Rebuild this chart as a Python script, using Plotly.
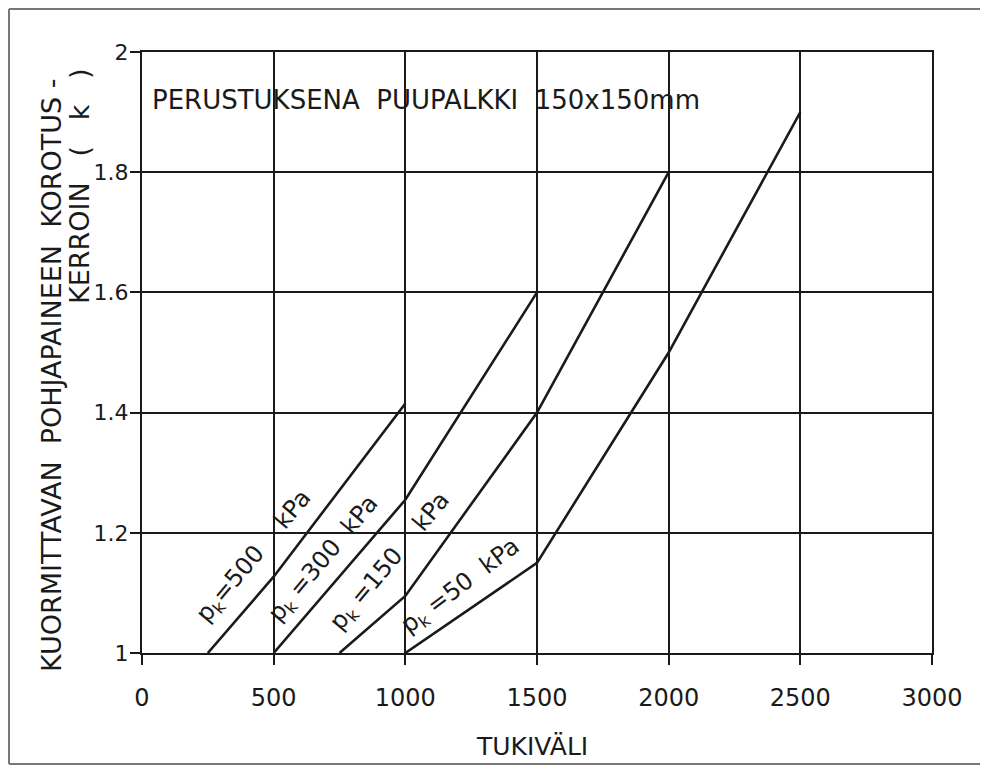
import plotly.graph_objects as go

# ---- data ----
spans_500 = [250, 500, 1000]
k_500 = [1.0, 1.127, 1.415]
spans_300 = [500, 1000, 1500]
k_300 = [1.0, 1.255, 1.6]
spans_150 = [750, 1000, 1500, 2000]
k_150 = [1.0, 1.095, 1.4, 1.8]
spans_50 = [1000, 1500, 2000, 2500]
k_50 = [1.0, 1.15, 1.5, 1.9]

series_labels = ["p<sub>k</sub>=500    kPa", "p<sub>k</sub> =300  kPa",
                 "p<sub>k</sub> =150    kPa", "p<sub>k</sub> =50  kPa"]
label_x = [428, 690, 945, 1212]
label_y = [1.16, 1.156, 1.152, 1.11]
label_angle = [-50, -50, -50, -37]

x_ticks = [0, 500, 1000, 1500, 2000, 2500, 3000]
x_ticktext = ["0", "500", "1000", "1500", "2000", "2500", "3000"]
y_ticks = [1.0, 1.2, 1.4, 1.6, 1.8, 2.0]
y_ticktext = ["1", "1.2", "1.4", "1.6", "1.8", "2"]

FONT = "DejaVu Sans"
INK = "#1a1a1a"


def px_x(p):  # absolute page pixel -> paper x (plot area at 142..932)
    return (p - 142) / 790


def px_y(p):  # absolute page pixel -> paper y (plot area at 52..653)
    return (653 - p) / 601


fig = go.Figure()
for xs, ys in [(spans_500, k_500), (spans_300, k_300), (spans_150, k_150), (spans_50, k_50)]:
    fig.add_trace(go.Scatter(x=xs, y=ys, mode="lines",
                             line=dict(color=INK, width=2.6),
                             showlegend=False, hoverinfo="skip"))

for txt, lx, ly, ang in zip(series_labels, label_x, label_y, label_angle):
    fig.add_annotation(x=lx, y=ly, xref="x", yref="y", text=txt, textangle=ang,
                       showarrow=False, font=dict(family=FONT, size=24, color=INK),
                       xanchor="center", yanchor="middle")

# title inside the plot
fig.add_annotation(x=30, y=1.92, xref="x", yref="y",
                   text="PERUSTUKSENA  PUUPALKKI  150x150mm",
                   showarrow=False, xanchor="left", yanchor="middle",
                   font=dict(family=FONT, size=26, color=INK))

# y-axis title (two lines)
fig.add_annotation(x=px_x(51), y=px_y(376), xref="paper", yref="paper",
                   text="KUORMITTAVAN  POHJAPAINEEN  KOROTUS -",
                   textangle=-90, showarrow=False, xanchor="center", yanchor="middle",
                   font=dict(family=FONT, size=27, color=INK))
fig.add_annotation(x=px_x(79), y=px_y(66), xref="paper", yref="paper",
                   text="KERROIN   (   k   )",
                   textangle=-90, showarrow=False, xanchor="center", yanchor="top",
                   font=dict(family=FONT, size=27, color=INK))

# x-axis title
fig.add_annotation(x=px_x(532), y=px_y(746), xref="paper", yref="paper",
                   text="TUKIVÄLI", showarrow=False, xanchor="center", yanchor="middle",
                   font=dict(family=FONT, size=25, color=INK))

# outer frame of the scanned figure (left, top, bottom edges)
frame = dict(type="line", xref="paper", yref="paper",
             line=dict(color="#777777", width=2), layer="below")
fig.add_shape(x0=px_x(9), x1=px_x(9), y0=px_y(764), y1=px_y(9), **frame)
fig.add_shape(x0=px_x(9), x1=px_x(990), y0=px_y(9), y1=px_y(9), **frame)
fig.add_shape(x0=px_x(9), x1=px_x(990), y0=px_y(764), y1=px_y(764), **frame)

axis_common = dict(showgrid=True, gridcolor=INK, gridwidth=1.8,
                   showline=True, linecolor=INK, linewidth=2.2, mirror=True,
                   ticks="outside", ticklen=10, tickwidth=2, tickcolor=INK,
                   zeroline=False, fixedrange=True)

fig.update_xaxes(range=[0, 3000], tickvals=x_ticks, ticktext=x_ticktext,
                 tickfont=dict(family=FONT, size=24, color=INK),
                 ticklabelstandoff=12, **axis_common)
fig.update_yaxes(range=[1.0, 2.0], tickvals=y_ticks, ticktext=y_ticktext,
                 tickfont=dict(family=FONT, size=22, color=INK),
                 ticklabelstandoff=-3, **axis_common)

# the page body adds an 8px offset, so the figure is sized/margined to keep
# the plot area at absolute x 142..932, y 52..653
fig.update_layout(width=972, height=757,
                  margin=dict(l=134, r=48, t=44, b=112, autoexpand=False),
                  paper_bgcolor="white", plot_bgcolor="white",
                  font=dict(family=FONT, color=INK))

fig.write_html("out.html")
